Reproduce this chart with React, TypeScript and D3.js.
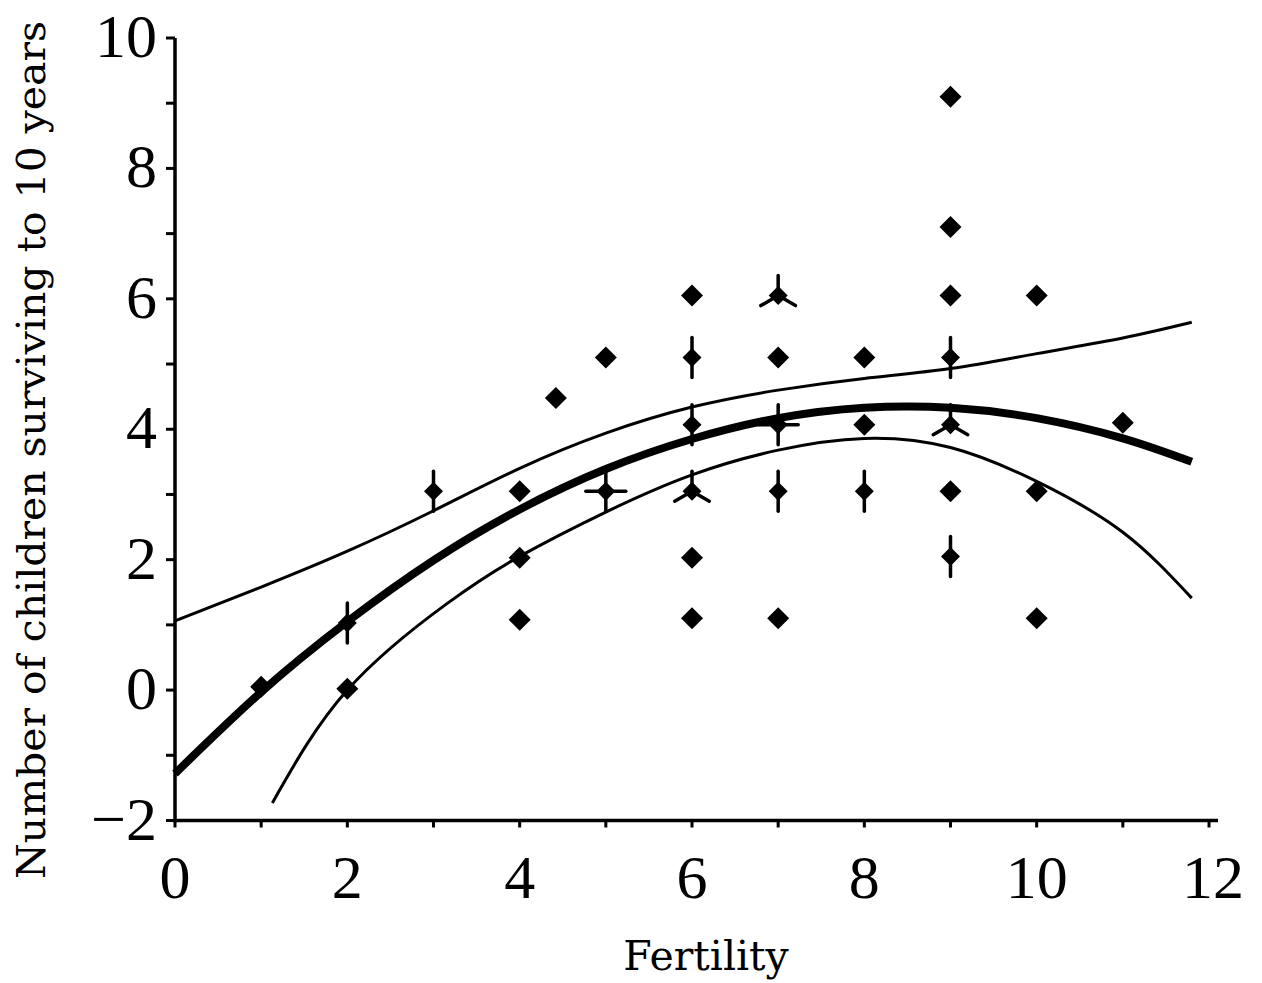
import React from "react";
import * as d3 from "d3";

// Observations (sunflower plot): fertility, surviving children, count of overlapping cases
const obsFertility = [1, 2, 2, 3, 4, 4, 4, 4.42, 5, 5, 6, 6, 6, 6, 6, 6, 7, 7, 7, 7, 7, 8, 8, 8, 9, 9, 9, 9, 9, 9, 9, 10, 10, 10, 11];
const obsSurviving = [0.05, 0.02, 1.03, 3.05, 3.05, 2.03, 1.08, 4.48, 5.1, 3.05, 6.05, 5.1, 4.07, 3.05, 2.03, 1.1, 6.05, 5.1, 4.07, 3.05, 1.1, 5.1, 4.07, 3.05, 9.1, 7.1, 6.05, 5.1, 4.07, 3.05, 2.05, 6.05, 3.05, 1.1, 4.1];
const obsCount = [1, 1, 2, 2, 1, 1, 1, 1, 1, 4, 1, 2, 2, 3, 1, 1, 3, 1, 4, 2, 1, 1, 1, 2, 1, 1, 1, 2, 3, 1, 2, 1, 1, 1, 1];

// Fitted curve and its confidence bands
const fitX = [0, 1, 2, 3, 4, 5, 6, 7, 8, 9, 10, 11, 11.8];
const fitY = [-1.28, -0.03, 1.05, 1.99, 2.77, 3.39, 3.85, 4.17, 4.33, 4.33, 4.17, 3.86, 3.5];
const upperX = [0, 1, 2, 3, 4, 5, 6, 7, 8, 9, 10, 11, 11.8];
const upperY = [1.06, 1.58, 2.13, 2.75, 3.4, 3.94, 4.34, 4.6, 4.78, 4.93, 5.16, 5.4, 5.64];
const lowerX = [1.13, 2, 3.16, 4, 5, 6, 7, 8, 9, 10, 11, 11.8];
const lowerY = [-1.73, 0.0, 1.33, 2.05, 2.73, 3.3, 3.68, 3.86, 3.72, 3.2, 2.42, 1.41];

const xTicks = [0, 2, 4, 6, 8, 10, 12];
const yTicks = [-2, 0, 2, 4, 6, 8, 10];
const xLabel = "Fertility";
const yLabel = "Number of children surviving to 10 years";

const W = 1262;
const H = 983;

export default function App() {
  const x = d3.scaleLinear().domain([0, 12]).range([175, 1209]);
  const y = d3.scaleLinear().domain([-2, 10]).range([820.5, 38]);

  const line = d3
    .line<[number, number]>()
    .x((d) => x(d[0]))
    .y((d) => y(d[1]))
    .curve(d3.curveNatural);

  const fitPath = line(fitX.map((v, i) => [v, fitY[i]] as [number, number])) || "";
  const upPath = line(upperX.map((v, i) => [v, upperY[i]] as [number, number])) || "";
  const loPath = line(lowerX.map((v, i) => [v, lowerY[i]] as [number, number])) || "";

  const minorX = d3.range(0, 13, 1);
  const minorY = d3.range(-2, 11, 1);

  const diamond = (cx: number, cy: number, r: number) =>
    `M${cx},${cy - r}L${cx + r},${cy}L${cx},${cy + r}L${cx - r},${cy}Z`;

  const petalAngles = (n: number): number[] => {
    if (n === 2) return [90, 270];
    if (n === 3) return [90, 210, 330];
    if (n === 4) return [90, 0, 180, 270];
    return [];
  };

  const font = "'Liberation Serif', Tinos, 'Times New Roman', serif";
  const labelFont = "'DejaVu Serif', serif";

  return (
    <svg
      width={W}
      height={H}
      style={{ position: "absolute", left: 0, top: 0, background: "#fff" }}
    >
      <rect x={0} y={0} width={W} height={H} fill="#fff" />

      {/* curves */}
      <path d={upPath} fill="none" stroke="#000" strokeWidth={3} />
      <path d={loPath} fill="none" stroke="#000" strokeWidth={3} />
      <path d={fitPath} fill="none" stroke="#000" strokeWidth={8} />

      {/* points */}
      {obsFertility.map((fx, i) => {
        const cx = x(fx);
        const cy = y(obsSurviving[i]);
        const n = obsCount[i];
        const len = 20;
        return (
          <g key={i}>
            <path d={diamond(cx, cy, n > 1 ? 9.5 : 11)} fill="#000" />
            {petalAngles(n).map((a, j) => {
              const rad = (a * Math.PI) / 180;
              return (
                <line
                  key={j}
                  x1={cx}
                  y1={cy}
                  x2={cx + len * Math.cos(rad)}
                  y2={cy - len * Math.sin(rad)}
                  stroke="#000"
                  strokeWidth={3.5}
                  strokeLinecap="round"
                />
              );
            })}
          </g>
        );
      })}

      {/* axes */}
      <line x1={175} y1={y(10)} x2={175} y2={y(-2) + 2} stroke="#000" strokeWidth={3.5} />
      <line x1={175} y1={y(-2)} x2={1218} y2={y(-2)} stroke="#000" strokeWidth={3.5} />
      {minorY.map((v) => (
        <line key={"yt" + v} x1={166} y1={y(v)} x2={175} y2={y(v)} stroke="#000" strokeWidth={3} />
      ))}
      {minorX.map((v) => (
        <line key={"xt" + v} x1={x(v)} y1={y(-2)} x2={x(v)} y2={y(-2) + 7} stroke="#000" strokeWidth={3} />
      ))}

      {yTicks.map((v) => (
        <text
          key={"yl" + v}
          x={157}
          y={y(v) + 19}
          textAnchor="end"
          fontFamily={font}
          fontSize={62}
          fill="#000"
        >
          {v < 0 ? "\u2212" + Math.abs(v) : v}
        </text>
      ))}
      {xTicks.map((v) => (
        <text
          key={"xl" + v}
          x={x(v) + (v === 12 ? 4 : 0)}
          y={898}
          textAnchor="middle"
          fontFamily={font}
          fontSize={62}
          fill="#000"
        >
          {v}
        </text>
      ))}

      <text x={706} y={970} textAnchor="middle" fontFamily={labelFont} fontSize={41} fill="#000">
        {xLabel}
      </text>
      <text
        transform={`translate(45,450) rotate(-90)`}
        textAnchor="middle"
        fontFamily={labelFont}
        fontSize={40}
        fill="#000"
        textLength={858}
        lengthAdjust="spacingAndGlyphs"
      >
        {yLabel}
      </text>
    </svg>
  );
}
